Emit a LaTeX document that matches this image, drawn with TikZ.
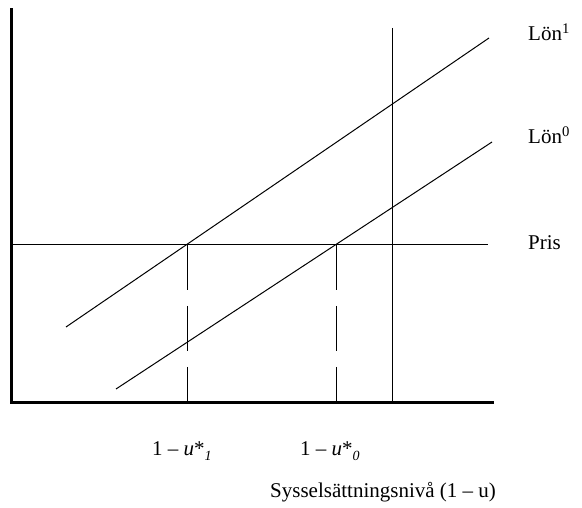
\documentclass[tikz,border=0pt]{standalone}
\usepackage{fontspec}
\setmainfont{Liberation Serif}
\begin{document}
\begin{tikzpicture}[x=1pt,y=-1pt,
  axisline/.style={line width=3pt},
  curve/.style={line width=1pt},
  dashline/.style={line width=1pt,dash pattern=on 45pt off 16pt},
  lbl/.style={inner sep=0pt,anchor=base west,font=\fontsize{21}{25}\selectfont}]
\useasboundingbox (0,0) rectangle (582,508);
% axes
\coordinate (top) at (11,10);
\coordinate (orig) at (11,402);
\coordinate (xend) at (492,402);
\draw[axisline,line cap=rect] (top) -- (orig) -- (xend);
% wage lines
\coordinate (l1a) at (66,327);
\coordinate (l1b) at (489,38);
\coordinate (l0a) at (116,389);
\coordinate (l0b) at (492,142);
\draw[curve] (l1a) -- (l1b);
\draw[curve] (l0a) -- (l0b);
% price line
\coordinate (pa) at (11,245);
\coordinate (pb) at (488,245);
\draw[curve] (pa) -- (pb);
% vertical line
\coordinate (va) at (392,28);
\coordinate (vb) at (392,402);
\draw[curve] (va) -- (vb);
% dashed lines
\coordinate (d1a) at (187,245);
\coordinate (d1b) at (187,402);
\coordinate (d0a) at (336,245);
\coordinate (d0b) at (336,402);
\draw[dashline] (d1a) -- (d1b);
\draw[dashline] (d0a) -- (d0b);
% labels
\node[lbl] (lon1) at (528,41) {Lön\textsuperscript{1}};
\node[lbl] (lon0) at (528,144) {Lön\textsuperscript{0}};
\node[lbl] (pris) at (528,250) {Pris};
\node[lbl] (u1) at (152,455) {1 – \textit{u}*\raisebox{-0.25em}{\fontsize{14}{14}\selectfont\itshape 1}};
\node[lbl] (u0) at (300,455) {1 – \textit{u}*\raisebox{-0.25em}{\fontsize{14}{14}\selectfont\itshape 0}};
\node[lbl] (xlab) at (270,497) {Sysselsättningsnivå (1 – u)};
\end{tikzpicture}
\end{document}
